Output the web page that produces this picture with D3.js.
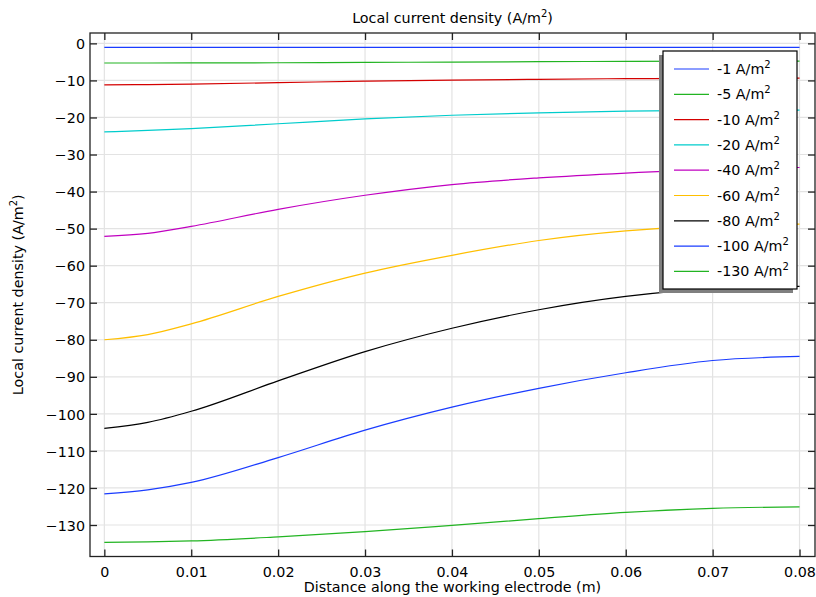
<!DOCTYPE html>
<html>
<head>
<meta charset="utf-8">
<script src="https://cdn.jsdelivr.net/npm/d3@7"></script>
<style>
  html, body { margin: 0; padding: 0; background: #fff; }
  svg { display: block; font-family: "DejaVu Sans", sans-serif; }
</style>
</head>
<body>
<svg id="chart" width="816" height="597"></svg>
<script>
// ---- data ----
const xPositions = [0, 0.005, 0.01, 0.02, 0.03, 0.04, 0.05, 0.06, 0.07, 0.08];
const seriesNames = ["-1", "-5", "-10", "-20", "-40", "-60", "-80", "-100", "-130"];
const s1   = [-1.08, -1.08, -1.08, -1.08, -1.08, -1.08, -1.08, -1.08, -1.08, -1.08];
const s5   = [-5.3, -5.3, -5.28, -5.23, -5.13, -5.05, -4.95, -4.86, -4.8, -4.78];
const s10  = [-11.2, -11.12, -10.98, -10.6, -10.2, -9.9, -9.7, -9.52, -9.44, -9.4];
const s20  = [-23.9, -23.5, -23.0, -21.7, -20.4, -19.4, -18.75, -18.3, -18.1, -18.0];
const s40  = [-52.1, -51.3, -49.4, -44.8, -41.0, -38.1, -36.3, -35.0, -34.0, -33.5];
const s60  = [-80.0, -78.6, -75.7, -68.3, -62.0, -57.2, -53.2, -50.6, -49.2, -48.8];
const s80  = [-103.9, -102.3, -99.3, -91.1, -83.2, -76.9, -71.9, -68.3, -66.2, -65.6];
const s100 = [-121.6, -120.5, -118.5, -111.8, -104.4, -98.2, -93.1, -88.9, -85.6, -84.5];
const s130 = [-134.7, -134.55, -134.3, -133.2, -131.8, -130.1, -128.3, -126.6, -125.5, -125.1];
const seriesValues = [s1, s5, s10, s20, s40, s60, s80, s100, s130];
const seriesColors = ["#1a3cff", "#22b422", "#d40000", "#00cccc", "#c000c0", "#ffbf00", "#000000", "#1a3cff", "#22b422"];
const xTicks = [0, 0.01, 0.02, 0.03, 0.04, 0.05, 0.06, 0.07, 0.08];
const yTicks = [0, -10, -20, -30, -40, -50, -60, -70, -80, -90, -100, -110, -120, -130];

// ---- layout ----
const FS = 14.3;
const svg = d3.select("#chart");
const L = 90, R = 815, T = 33, B = 556.5;
const x = d3.scaleLinear().domain([-0.00165, 0.08178]).range([L, R]);
const y = d3.scaleLinear().domain([-138.5, 2.8]).range([B, T]);

// grid
const grid = svg.append("g");
grid.selectAll("line.vx").data(xTicks).enter().append("line")
  .attr("x1", d => x(d)).attr("x2", d => x(d)).attr("y1", T).attr("y2", B)
  .attr("stroke", "#e3e3e3").attr("stroke-width", 1.2);
grid.selectAll("line.hy").data(yTicks).enter().append("line")
  .attr("x1", L).attr("x2", R).attr("y1", d => y(d)).attr("y2", d => y(d))
  .attr("stroke", "#e3e3e3").attr("stroke-width", 1.2);

// series
const line = d3.line().x(d => x(d[0])).y(d => y(d[1])).curve(d3.curveMonotoneX);
const lines = svg.append("g");
seriesValues.forEach((vals, i) => {
  lines.append("path")
    .datum(xPositions.map((xv, j) => [xv, vals[j]]))
    .attr("d", line)
    .attr("fill", "none")
    .attr("stroke", seriesColors[i])
    .attr("stroke-width", 1.2);
});

// axes (ticks inward, on all four sides)
const tickLen = 7;
const axBottom = d3.axisBottom(x).tickValues(xTicks).tickSizeInner(-tickLen).tickSizeOuter(0)
  .tickFormat(d => d === 0 ? "0" : d3.format(".2f")(d));
const gB = svg.append("g").attr("transform", `translate(0,${B})`).call(axBottom);
const axTop = d3.axisTop(x).tickValues(xTicks).tickSizeInner(-tickLen).tickSizeOuter(0).tickFormat("");
const gT = svg.append("g").attr("transform", `translate(0,${T})`).call(axTop);
const axLeft = d3.axisLeft(y).tickValues(yTicks).tickSizeInner(-tickLen).tickSizeOuter(0)
  .tickFormat(d3.format("d"));
const gL = svg.append("g").attr("transform", `translate(${L},0)`).call(axLeft);
const axRight = d3.axisRight(y).tickValues(yTicks).tickSizeInner(-tickLen).tickSizeOuter(0).tickFormat("");
const gR = svg.append("g").attr("transform", `translate(${R},0)`).call(axRight);
[gB, gT, gL, gR].forEach(g => {
  g.select(".domain").remove();
  g.selectAll(".tick line").attr("stroke", "#222").attr("stroke-width", 1.3);
  g.selectAll("text").attr("fill", "#000").attr("font-size", FS).attr("font-family", "DejaVu Sans, sans-serif");
});
gB.selectAll("text").attr("dy", null).attr("y", 20.5);
gL.selectAll("text").attr("dy", "0.36em").attr("x", -5);

// frame
svg.append("rect").attr("x", L).attr("y", T).attr("width", R - L).attr("height", B - T)
  .attr("fill", "none").attr("stroke", "#222").attr("stroke-width", 1.3);

// title
function supText(sel, main, sup, after) {
  sel.append("tspan").text(main);
  sel.append("tspan").text(sup).attr("font-size", 10).attr("dy", -6);
  if (after) sel.append("tspan").text(after).attr("dy", 6);
}
const title = svg.append("text").attr("x", (L + R) / 2).attr("y", 23)
  .attr("text-anchor", "middle").attr("font-size", FS).attr("fill", "#000");
supText(title, "Local current density (A/m", "2", ")");

svg.append("text").attr("x", (L + R) / 2).attr("y", 592)
  .attr("text-anchor", "middle").attr("font-size", FS).attr("fill", "#000")
  .text("Distance along the working electrode (m)");

const ylab = svg.append("text")
  .attr("transform", `translate(23,${(T + B) / 2}) rotate(-90)`)
  .attr("text-anchor", "middle").attr("font-size", FS).attr("fill", "#000");
supText(ylab, "Local current density (A/m", "2", ")");

// legend
const lgX = 663, lgY = 51, lgW = 134, lgH = 238;
svg.append("rect").attr("x", lgX - 4).attr("y", lgY + 4).attr("width", lgW).attr("height", lgH)
  .attr("fill", "#808080");
svg.append("rect").attr("x", lgX).attr("y", lgY).attr("width", lgW).attr("height", lgH)
  .attr("fill", "#fff").attr("stroke", "#000").attr("stroke-width", 1.2);
const rowH = 25.3;
seriesNames.forEach((name, i) => {
  const cy = 69 + i * rowH;
  svg.append("line").attr("x1", 674).attr("x2", 709).attr("y1", cy).attr("y2", cy)
    .attr("stroke", seriesColors[i]).attr("stroke-width", 1.2);
  const t = svg.append("text").attr("x", 717).attr("y", cy + 5)
    .attr("font-size", FS).attr("fill", "#000");
  supText(t, name + " A/m", "2");
});
</script>
</body>
</html>
